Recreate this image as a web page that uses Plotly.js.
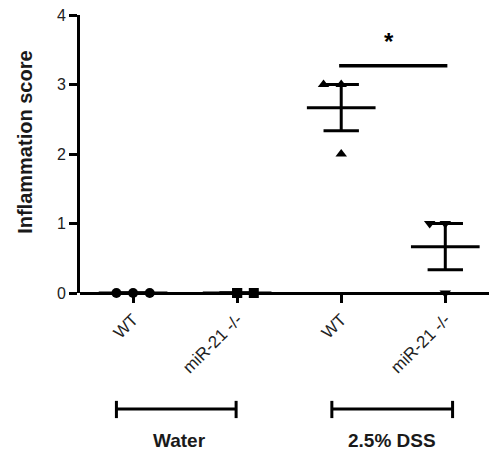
<!DOCTYPE html>
<html>
<head>
<meta charset="utf-8">
<script src="https://cdn.plot.ly/plotly-3.0.1.min.js"></script>
<style>html,body{margin:0;padding:0;background:#fff;}</style>
</head>
<body>
<div id="chart" style="width:489px;height:459px;"></div>
<script>
// ---- data ----
const categories = ['WT', 'miR-21 -/-', 'WT', 'miR-21 -/-'];
const groupNames = ['Water', '2.5% DSS'];
const wtWater = [0, 0, 0];
const koWater = [0, 0, 0];
const wtDSS = [3, 3, 2];
const koDSS = [1, 1, 0];
const significance = '*';
const yTitle = 'Inflammation score';

// ---- style ----
const series = [wtWater, koWater, wtDSS, koDSS];
const symbols = ['circle', 'square', 'triangle-up', 'triangle-down'];
const jitter = [[-0.16, 0, 0.16], [0, 0, 0.16], [-0.17, 0, 0], [-0.15, 0, 0]];
const FONT = 'Liberation Sans, Arial, sans-serif';
const meanHalf = 0.33, capHalf = 0.17;

const traces = [];
series.forEach((vals, i) => {
  const n = vals.length;
  const m = vals.reduce((a, b) => a + b, 0) / n;
  const sd = Math.sqrt(vals.reduce((a, b) => a + (b - m) * (b - m), 0) / (n - 1));
  const se = sd / Math.sqrt(n);
  traces.push({
    type: 'scatter', mode: 'lines', cliponaxis: false, showlegend: false, hoverinfo: 'skip',
    x: [i - meanHalf, i + meanHalf, null, i, i, null, i - capHalf, i + capHalf, null, i - capHalf, i + capHalf],
    y: [m, m, null, m - se, m + se, null, m + se, m + se, null, m - se, m - se],
    line: {color: '#000', width: 3}
  });
  traces.push({
    type: 'scatter', mode: 'markers', cliponaxis: false, showlegend: false,
    x: vals.map((v, j) => i + jitter[i][j]), y: vals,
    marker: {symbol: symbols[i], size: 10, color: '#000'}
  });
});

const groupSpan = [[-0.16, 0.99], [1.91, 3.07]];
const groupLabelX = [0.45, 2.49];
const shapes = [];
const annotations = [];
groupSpan.forEach((g, k) => {
  shapes.push({type: 'line', xref: 'x', yref: 'paper', x0: g[0], x1: g[1], y0: -0.417, y1: -0.417, line: {color: '#000', width: 3}});
  shapes.push({type: 'line', xref: 'x', yref: 'paper', x0: g[0], x1: g[0], y0: -0.388, y1: -0.45, line: {color: '#000', width: 3}});
  shapes.push({type: 'line', xref: 'x', yref: 'paper', x0: g[1], x1: g[1], y0: -0.388, y1: -0.45, line: {color: '#000', width: 3}});
  annotations.push({xref: 'x', yref: 'paper', x: groupLabelX[k], y: -0.532, text: '<b>' + groupNames[k] + '</b>',
    showarrow: false, font: {family: FONT, size: 19, color: '#1a1a1a'}, xanchor: 'center', yanchor: 'middle'});
});
// significance bar
shapes.push({type: 'line', xref: 'x', yref: 'y', x0: 1.98, x1: 3.02, y0: 3.27, y1: 3.27, line: {color: '#000', width: 3.5}});
annotations.push({xref: 'x', yref: 'y', x: 2.46, y: 3.62, text: '<b>' + significance + '</b>', showarrow: false,
  font: {family: FONT, size: 24, color: '#000'}, xanchor: 'center', yanchor: 'middle'});
// y-axis title
annotations.push({xref: 'paper', yref: 'paper', x: -0.135, y: 0.543, text: '<b>' + yTitle + '</b>', textangle: -90,
  showarrow: false, font: {family: FONT, size: 20, color: '#1a1a1a'}, xanchor: 'center', yanchor: 'middle'});

const layout = {
  width: 489, height: 459,
  margin: {l: 80, r: 0, t: 15, b: 166},
  paper_bgcolor: '#fff', plot_bgcolor: '#fff',
  font: {family: FONT, color: '#222'},
  showlegend: false,
  xaxis: {
    range: [-0.51, 3.42], showgrid: false, zeroline: false,
    showline: false,
    ticks: 'outside', ticklen: 9, tickwidth: 3, tickcolor: '#000',
    tickvals: [0, 1, 2, 3], ticktext: categories, tickangle: -45,
    tickfont: {family: FONT, size: 17, color: '#222'}
  },
  yaxis: {
    range: [0, 4], showgrid: false,
    zeroline: true, zerolinewidth: 3, zerolinecolor: '#000',
    showline: true, linewidth: 3, linecolor: '#000',
    ticks: 'outside', ticklen: 8, tickwidth: 3, tickcolor: '#000',
    tickvals: [0, 1, 2, 3, 4],
    tickfont: {family: FONT, size: 16, color: '#222'}
  },
  shapes: shapes,
  annotations: annotations
};

Plotly.newPlot('chart', traces, layout, {displayModeBar: false, staticPlot: true});
</script>
</body>
</html>
